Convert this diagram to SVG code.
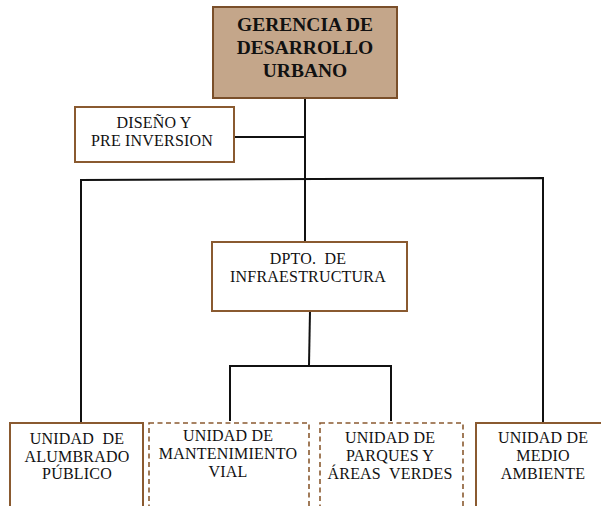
<svg xmlns="http://www.w3.org/2000/svg" width="601" height="506" viewBox="0 0 601 506">
<style>
.box{fill:#ffffff;stroke:#8a5a30;stroke-width:2}
.top{fill:#c4a68a;stroke:#7a4f2a;stroke-width:2}
.dash{fill:#ffffff;stroke:#8a5a30;stroke-width:1.6;stroke-dasharray:5 3.5}
.ln{stroke:#111;stroke-width:2;fill:none}
text{fill:#111;text-anchor:middle;font-family:'Liberation Serif','Times New Roman',serif}
.t{font-size:19.5px;font-weight:bold}
.s{font-size:16px;letter-spacing:0.2px}
</style>
<rect width="601" height="506" fill="#ffffff"/>
<g id="connectors">
<line class="ln" x1="305" y1="98" x2="305" y2="242"/>
<line class="ln" x1="234" y1="137" x2="305" y2="137"/>
<polyline class="ln" points="81,423 81,180 543,178 543,423"/>
<line class="ln" x1="310" y1="311" x2="309" y2="365"/>
<polyline class="ln" points="230,421 230,366 391,366 391,421"/>
</g>
<g id="gerencia">
<rect class="top" x="213" y="7" width="184" height="91"/>
<text class="t" x="305" y="31">GERENCIA DE</text>
<text class="t" x="305" y="54">DESARROLLO</text>
<text class="t" x="305" y="77">URBANO</text>
</g>
<g id="diseno">
<rect class="box" x="75" y="107" width="159" height="55"/>
<text class="s" x="154" y="128">DISEÑO Y</text>
<text class="s" x="152" y="146">PRE INVERSION</text>
</g>
<g id="dpto">
<rect class="box" x="212" y="242" width="195" height="69"/>
<text class="s" x="308" y="264" xml:space="preserve">DPTO.  DE</text>
<text class="s" x="308" y="282">INFRAESTRUCTURA</text>
</g>
<g id="alumbrado">
<rect class="box" x="10" y="423" width="133" height="100"/>
<text class="s" x="77" y="444" xml:space="preserve">UNIDAD  DE</text>
<text class="s" x="77" y="462">ALUMBRADO</text>
<text class="s" x="77" y="479">PÚBLICO</text>
</g>
<g id="mantenimiento">
<rect class="dash" x="149" y="423" width="160" height="100"/>
<text class="s" x="228" y="441">UNIDAD DE</text>
<text class="s" x="228" y="459">MANTENIMIENTO</text>
<text class="s" x="228" y="477">VIAL</text>
</g>
<g id="parques">
<rect class="dash" x="320" y="423" width="143" height="100"/>
<text class="s" x="390" y="443">UNIDAD DE</text>
<text class="s" x="390" y="461">PARQUES Y</text>
<text class="s" x="390" y="479" xml:space="preserve">ÁREAS  VERDES</text>
</g>
<g id="medio">
<rect class="box" x="476" y="423" width="140" height="100"/>
<text class="s" x="543" y="443">UNIDAD DE</text>
<text class="s" x="543" y="461">MEDIO</text>
<text class="s" x="543" y="479">AMBIENTE</text>
</g>
</svg>
